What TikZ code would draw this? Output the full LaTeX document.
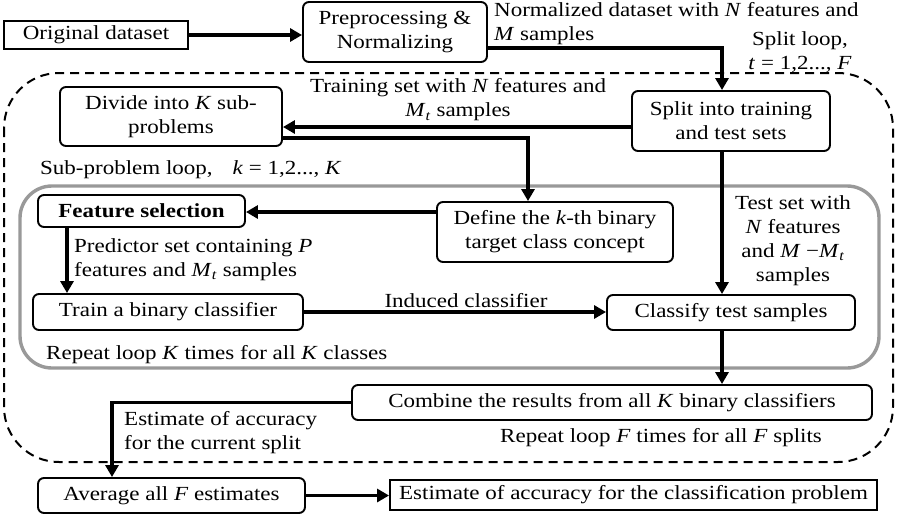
\documentclass[tikz,border=0pt]{standalone}
\usepackage{fontspec}
\setmainfont{Liberation Serif}[FakeStretch=1.15]
\usetikzlibrary{arrows.meta}
\newcommand{\vi}[1]{\textit{#1}}
\newcommand{\Mt}{\textit{M}\textsubscript{\textit{t}}}
\tikzset{
  rbox/.style={draw, line width=1.9pt, rounded corners=6pt, inner sep=0pt, align=center},
  sbox/.style={draw, line width=1.9pt, inner sep=0pt, align=center},
  lbl/.style={inner sep=0pt},
  conn/.style={line width=3.2pt, -{Triangle[length=12pt,width=13pt]}},
  outerloop/.style={line width=2pt, dash pattern=on 9pt off 6pt, rounded corners=55pt},
  innerloop/.style={line width=3.4pt, draw=black!40, rounded corners=32pt}
}
\begin{document}
\begin{tikzpicture}[x=1pt,y=-1pt,font=\fontsize{20}{24}\selectfont]
\useasboundingbox (0,0) rectangle (900,520);
\fill[white] (0,0) rectangle (900,520);
% loops
\draw[outerloop] (4,73) rectangle (893,462);
\draw[innerloop] (20,186) rectangle (879,368);
% boxes
\node[sbox, minimum width=184pt, minimum height=28pt] (orig) at (96,35) {Original dataset};
\node[rbox, minimum width=184pt, minimum height=60pt] (prep) at (395,32) {Preprocessing \&\\Normalizing};
\node[rbox, minimum width=198pt, minimum height=60pt] (split) at (731,121) {Split into training\\and test sets};
\node[rbox, minimum width=222pt, minimum height=59pt] (divide) at (171,116.5) {Divide into \vi{K} sub-\\problems};
\node[rbox, minimum width=207pt, minimum height=32pt] (feat) at (141.5,211) {\textbf{Feature selection}};
\node[rbox, minimum width=236pt, minimum height=60pt] (define) at (555,232) {Define the \vi{k}-th binary\\target class concept};
\node[rbox, minimum width=270pt, minimum height=36pt] (train) at (168,312) {Train a binary classifier};
\node[rbox, minimum width=248pt, minimum height=35pt] (classify) at (731,312.5) {Classify test samples};
\node[rbox, minimum width=520pt, minimum height=35pt] (combine) at (612,402.5) {Combine the results from all \vi{K} binary classifiers};
\node[rbox, minimum width=267pt, minimum height=35pt] (avg) at (171.5,495.5) {Average all \vi{F} estimates};
\node[sbox, minimum width=487pt, minimum height=30pt] (est) at (633.5,495) {Estimate of accuracy for the classification problem};
% labels
\node[lbl, anchor=west, align=left] (l1) at (494,23.5) {Normalized dataset with \vi{N} features and\\\vi{M} samples};
\node[lbl, align=center] (l2) at (800,52) {Split loop,\\\vi{t} = 1,2..., \vi{F}};
\node[lbl, align=center] (l3) at (458,100) {Training set with \vi{N} features and\\\Mt{} samples};
\node[lbl, anchor=west] (l4) at (40,170) {Sub-problem loop,\quad \vi{k} = 1,2..., \vi{K}};
\node[lbl, anchor=west, align=left] (l5) at (74,260) {Predictor set containing \vi{P}\\features and \Mt{} samples};
\node[lbl, align=center] (l6) at (793,241) {Test set with\\\vi{N} features\\and \vi{M} \textminus\Mt\\samples};
\node[lbl] (l7) at (466,301) {Induced classifier};
\node[lbl, anchor=west] (l8) at (46,355) {Repeat loop \vi{K} times for all \vi{K} classes};
\node[lbl, anchor=west, align=left] (l9) at (124,433) {Estimate of accuracy\\for the current split};
\node[lbl, anchor=west] (l10) at (500,438) {Repeat loop \vi{F} times for all \vi{F} splits};
% connectors
\draw[conn] (orig.east) -- (orig.east -| prep.west);
\coordinate (c1) at ([xshift=-9pt]split.north);
\draw[conn] ([yshift=-16pt]prep.east) -| (c1);
\draw[conn] ([yshift=-6pt]split.west) -- ([yshift=-6pt]split.west -| divide.east);
\coordinate (c2) at ([xshift=-27pt]define.north);
\draw[conn] ([yshift=-21.5pt]divide.east) -| (c2);
\draw[conn] ([yshift=20pt]define.west) -- ([yshift=20pt]define.west -| feat.east);
\coordinate (c3) at (67,0);
\draw[conn] (feat.south -| c3) -- (train.north -| c3);
\draw[conn] (train.east) -- (train.east -| classify.west);
\draw[conn] ([xshift=-9pt]split.south) -- ([xshift=-9pt]classify.north);
\draw[conn] ([xshift=-9pt]classify.south) -- ([xshift=-9pt]classify.south |- combine.north);
\coordinate (c4) at (112,0);
\draw[conn] (combine.west) -| (c4 |- avg.north);
\draw[conn] (avg.east) -- (avg.east -| est.west);
\end{tikzpicture}
\end{document}
